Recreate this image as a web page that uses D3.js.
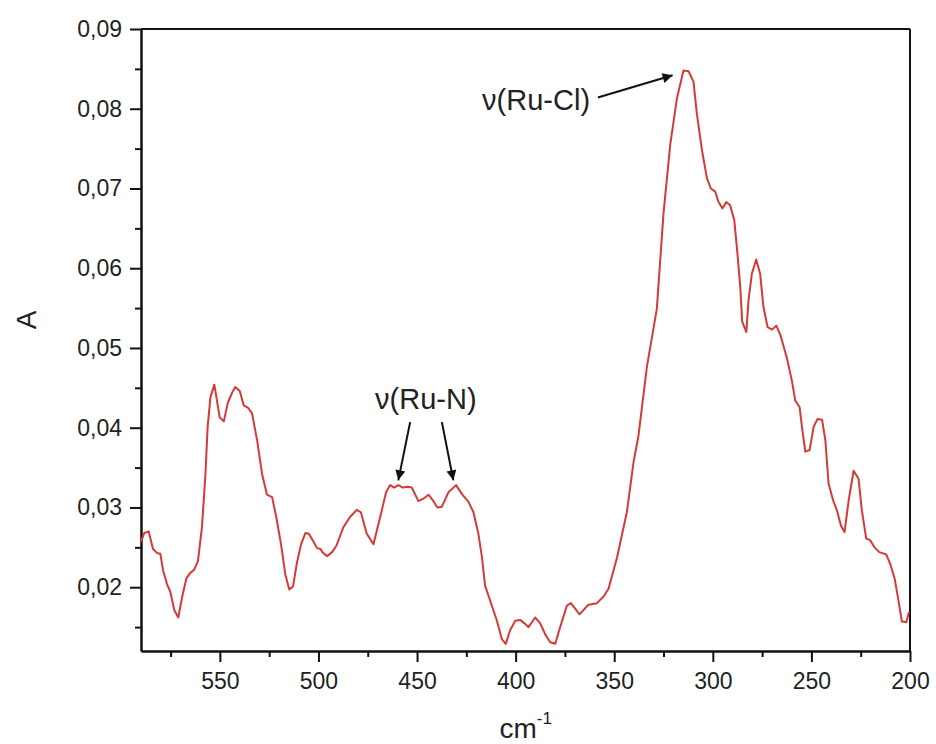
<!DOCTYPE html>
<html>
<head>
<meta charset="utf-8">
<script src="https://cdn.jsdelivr.net/npm/d3@7"></script>
<style>
body { margin: 0; background: #fff; }
text { font-family: "Liberation Sans", Arial, sans-serif; fill: #222; }
</style>
</head>
<body>
<script>
// wavenumber (cm-1) and absorbance
var wavenumber = [590,588.3,586.1,583.9,581.9,580.2,578.8,576.8,575.1,573.1,
  571.1,569.2,567.0,565.0,563.0,561.1,559.1,557.4,556.2,554.8,
  552.8,550.1,548.0,546.0,543.8,542.2,539.9,537.9,535.7,533.7,
  531.1,528.6,526.1,523.5,521.4,519.0,516.8,514.8,512.9,510.9,
  508.8,506.6,504.9,502.7,500.7,499.0,497.7,495.6,493.1,490.9,
  487.4,484.0,480.6,478.5,475.5,472.1,468.7,465.7,463.7,461.6,
  459.5,457.2,454.9,452.7,449.3,446.8,444.2,442.0,439.7,437.4,
  434.1,430.2,427.3,423.9,421.4,418.9,417.1,415.5,412.9,409.5,
  407.0,405.0,402.8,400.2,397.7,395.2,393.5,390.1,387.6,385.0,
  382.5,379.9,377.4,374.0,372.0,369.8,367.6,363.1,358.8,355.5,
  352.9,348.6,343.6,340.2,337.7,333.4,328.4,325.0,321.6,318.2,
  314.9,312.3,309.8,308.1,305.5,303.0,301.0,298.8,297.1,295.1,
  293.2,291.2,289.1,287.5,286.1,285.1,283.0,281.9,280.2,278.0,
  276.0,274.3,272.2,270.0,267.8,265.7,262.4,259.9,258.2,256.0,
  254.8,253.1,250.9,248.9,246.9,244.6,242.9,241.3,239.0,237.0,
  235.0,233.2,231.1,228.6,226.1,224.4,222.2,220.2,218.0,215.6,
  212.0,210.0,207.8,206.1,204.1,201.9,200.5]

var absorbance = [0.0257,0.0268,0.0270,0.0248,0.0243,0.0242,0.0221,0.0204,0.0194,0.0171,
  0.0162,0.0187,0.0211,0.0218,0.0222,0.0233,0.0275,0.0338,0.0401,0.0438,
  0.0454,0.0413,0.0408,0.0431,0.0444,0.0451,0.0446,0.0428,0.0425,0.0418,
  0.0384,0.0342,0.0316,0.0313,0.0288,0.0254,0.0216,0.0197,0.0201,0.0231,
  0.0254,0.0268,0.0267,0.0258,0.0249,0.0248,0.0243,0.0239,0.0244,0.0252,
  0.0275,0.0288,0.0297,0.0294,0.0267,0.0254,0.0288,0.0319,0.0328,0.0325,
  0.0328,0.0325,0.0326,0.0325,0.0308,0.0311,0.0316,0.0309,0.0300,0.0301,
  0.0319,0.0328,0.0317,0.0307,0.0294,0.0267,0.0238,0.0202,0.0183,0.0158,
  0.0135,0.0129,0.0146,0.0158,0.0159,0.0154,0.0150,0.0162,0.0155,0.0141,
  0.0131,0.0129,0.0150,0.0177,0.0180,0.0173,0.0166,0.0178,0.0180,0.0188,
  0.0198,0.0237,0.0294,0.0357,0.0390,0.0477,0.0549,0.0669,0.0755,0.0813,
  0.0848,0.0847,0.0834,0.0794,0.0748,0.0713,0.0700,0.0696,0.0683,0.0675,
  0.0683,0.0679,0.0660,0.0618,0.0577,0.0533,0.0520,0.0560,0.0593,0.0611,
  0.0593,0.0551,0.0526,0.0523,0.0528,0.0516,0.0487,0.0459,0.0434,0.0426,
  0.0401,0.0370,0.0372,0.0401,0.0411,0.0410,0.0384,0.0330,0.0309,0.0296,
  0.0277,0.0269,0.0309,0.0346,0.0336,0.0296,0.0261,0.0259,0.0250,0.0244,
  0.0241,0.0229,0.0211,0.0187,0.0157,0.0156,0.0169]

var xTicks = [550, 500, 450, 400, 350, 300, 250, 200]
var xMinor = [575, 525, 475, 425, 375, 325, 275, 225]
var yTicks = [0.02, 0.03, 0.04, 0.05, 0.06, 0.07, 0.08, 0.09]
var yMinor = [0.015, 0.025, 0.035, 0.045, 0.055, 0.065, 0.075, 0.085]

// annotation text and arrows, in data units
var labels = [
  {text: "ν(Ru-Cl)", x: 417, y: 0.0798},
  {text: "ν(Ru-N)", x: 471.3, y: 0.0424}
]
var arrows = [
  {x1: 358.3, y1: 0.0814, x2: 320.4, y2: 0.0842},
  {x1: 453.5, y1: 0.0407, x2: 459.5, y2: 0.0334},
  {x1: 437.4, y1: 0.0407, x2: 431.6, y2: 0.0334}
]

var margin = {top: 29, right: 26, bottom: 93, left: 141};
var width = 936 - margin.left - margin.right;
var height = 744 - margin.top - margin.bottom;

var svg = d3.select("body").append("svg")
  .attr("width", 936)
  .attr("height", 744)

var defs = svg.append("defs")
defs.append("marker")
  .attr("id", "head")
  .attr("viewBox", "0 0 10 10")
  .attr("refX", 10).attr("refY", 5)
  .attr("markerWidth", 16).attr("markerHeight", 10)
  .attr("markerUnits", "userSpaceOnUse")
  .attr("orient", "auto")
  .append("path")
  .attr("d", "M0,0 L10,5 L0,10 Z")
  .attr("fill", "#111")

var g = svg.append("g")
  .attr("transform", "translate(" + margin.left + "," + margin.top + ")")

var x = d3.scaleLinear().domain([590, 200]).range([0, width]);
var y = d3.scaleLinear().domain([0.012, 0.09]).range([height, 0]);

var fmt = function(d){ return d3.format(".2f")(d).replace(".", ","); }

// minor ticks
g.append("g")
  .attr("transform", "translate(0," + height + ")")
  .call(d3.axisBottom(x).tickValues(xMinor).tickSize(6).tickFormat(""))
  .call(function(a){ a.select(".domain").remove(); })
g.append("g")
  .call(d3.axisLeft(y).tickValues(yMinor).tickSize(6).tickFormat(""))
  .call(function(a){ a.select(".domain").remove(); })

var xAxis = g.append("g")
  .attr("transform", "translate(0," + height + ")")
  .call(d3.axisBottom(x).tickValues(xTicks).tickSize(11).tickSizeOuter(0).tickPadding(11))
var yAxis = g.append("g")
  .call(d3.axisLeft(y).tickValues(yTicks).tickFormat(fmt).tickSize(11).tickSizeOuter(0).tickPadding(8))

g.selectAll(".tick line").attr("stroke", "#111").attr("stroke-width", 2)
g.selectAll(".domain").attr("stroke", "#111").attr("stroke-width", 2.5)
g.selectAll(".tick text").style("font-size", "23px").attr("fill", "#222")

// top and right frame
g.append("line").attr("x1", 0).attr("x2", width).attr("y1", 0).attr("y2", 0)
  .attr("stroke", "#111").attr("stroke-width", 2)
g.append("line").attr("x1", width).attr("x2", width).attr("y1", 0).attr("y2", height)
  .attr("stroke", "#111").attr("stroke-width", 2)

var pts = wavenumber.map(function(d, i){ return [d, absorbance[i]]; })
var line = d3.line()
  .x(function(d){ return x(d[0]); })
  .y(function(d){ return y(d[1]); })

g.append("path")
  .datum(pts)
  .attr("d", line)
  .attr("fill", "none")
  .attr("stroke", "#d63a36")
  .attr("stroke-width", 2)
  .attr("stroke-linejoin", "round")

// annotations
g.selectAll(".lbl").data(labels).enter().append("text")
  .attr("class", "lbl")
  .attr("x", function(d){ return x(d.x); })
  .attr("y", function(d){ return y(d.y); })
  .style("font-size", "29px")
  .text(function(d){ return d.text; })

g.selectAll(".arr").data(arrows).enter().append("line")
  .attr("class", "arr")
  .attr("x1", function(d){ return x(d.x1); })
  .attr("y1", function(d){ return y(d.y1); })
  .attr("x2", function(d){ return x(d.x2); })
  .attr("y2", function(d){ return y(d.y2); })
  .attr("stroke", "#111")
  .attr("stroke-width", 2)
  .attr("marker-end", "url(#head)")

// axis titles
svg.append("text")
  .attr("transform", "translate(36,320) rotate(-90)")
  .attr("text-anchor", "middle")
  .style("font-size", "28px")
  .text("A")

var xt = svg.append("text")
  .attr("x", margin.left + width / 2 - 26)
  .attr("y", 738)
  .style("font-size", "28px")
xt.append("tspan").text("cm")
xt.append("tspan").attr("dy", -14).style("font-size", "17px").text("-1")
</script>
</body>
</html>
